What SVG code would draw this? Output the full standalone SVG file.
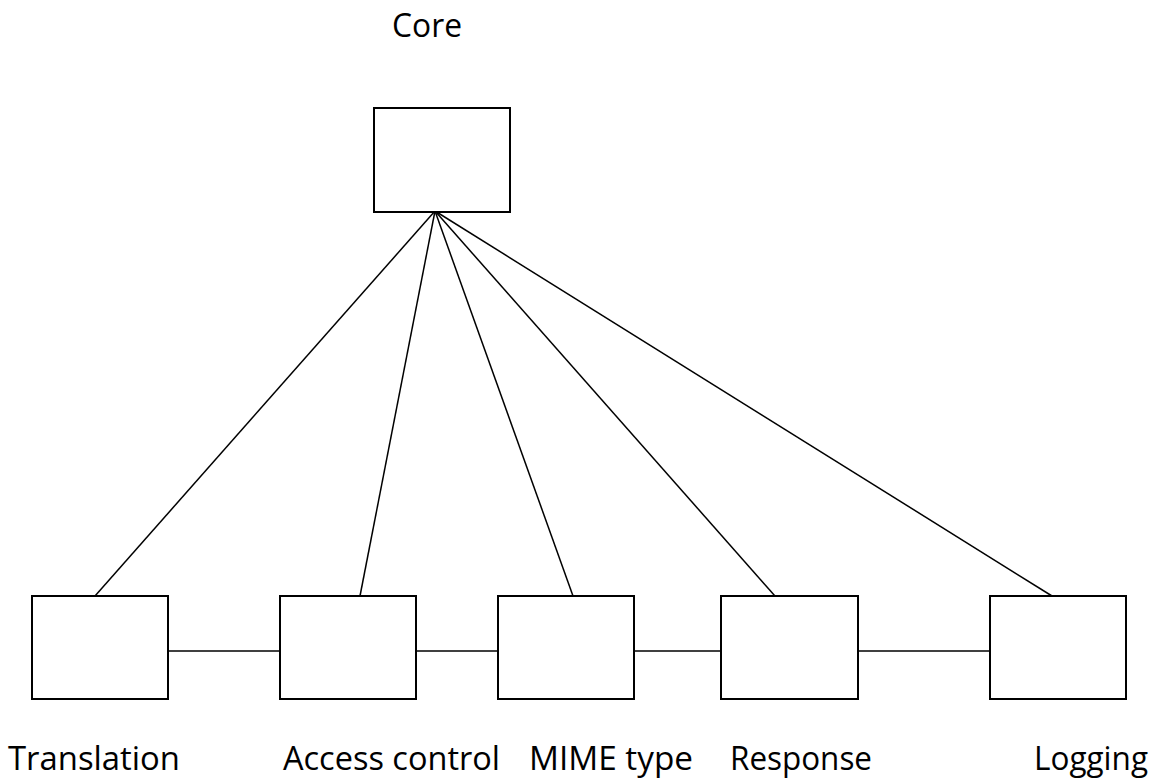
<svg xmlns="http://www.w3.org/2000/svg" width="1157" height="781" viewBox="0 0 1157 781">
<style>
.box{fill:#fff;stroke:#000;stroke-width:2}
.edge{stroke:#000;stroke-width:1.5;fill:none}
.lbl{font-family:"Open Sans","Liberation Sans",sans-serif;font-size:32px;fill:#000}
</style>
<rect width="1157" height="781" fill="#fff"/>
<g id="connectors">
<line class="edge" x1="435" y1="211" x2="95" y2="596"/>
<line class="edge" x1="435" y1="211" x2="360" y2="596"/>
<line class="edge" x1="435" y1="211" x2="573" y2="596"/>
<line class="edge" x1="435" y1="211" x2="775" y2="596"/>
<line class="edge" x1="435" y1="211" x2="1052" y2="596"/>
<line class="edge" x1="168" y1="651" x2="280" y2="651"/>
<line class="edge" x1="416" y1="651" x2="498" y2="651"/>
<line class="edge" x1="634" y1="651" x2="721" y2="651"/>
<line class="edge" x1="858" y1="651" x2="990" y2="651"/>
</g>
<g id="core">
<rect class="box" x="374" y="108" width="136" height="104"/>
<text class="lbl" x="392" y="37" textLength="70" lengthAdjust="spacingAndGlyphs">Core</text>
</g>
<g id="translation">
<rect class="box" x="32" y="596" width="136" height="103"/>
<text class="lbl" x="8" y="770" textLength="172" lengthAdjust="spacingAndGlyphs">Translation</text>
</g>
<g id="access-control">
<rect class="box" x="280" y="596" width="136" height="103"/>
<text class="lbl" x="283" y="770" textLength="217" lengthAdjust="spacingAndGlyphs">Access control</text>
</g>
<g id="mime-type">
<rect class="box" x="498" y="596" width="136" height="103"/>
<text class="lbl" x="529" y="770" textLength="164" lengthAdjust="spacingAndGlyphs">MIME type</text>
</g>
<g id="response">
<rect class="box" x="721" y="596" width="137" height="103"/>
<text class="lbl" x="730" y="770" textLength="142" lengthAdjust="spacingAndGlyphs">Response</text>
</g>
<g id="logging">
<rect class="box" x="990" y="596" width="136" height="103"/>
<text class="lbl" x="1034" y="770" textLength="114" lengthAdjust="spacingAndGlyphs">Logging</text>
</g>
</svg>
